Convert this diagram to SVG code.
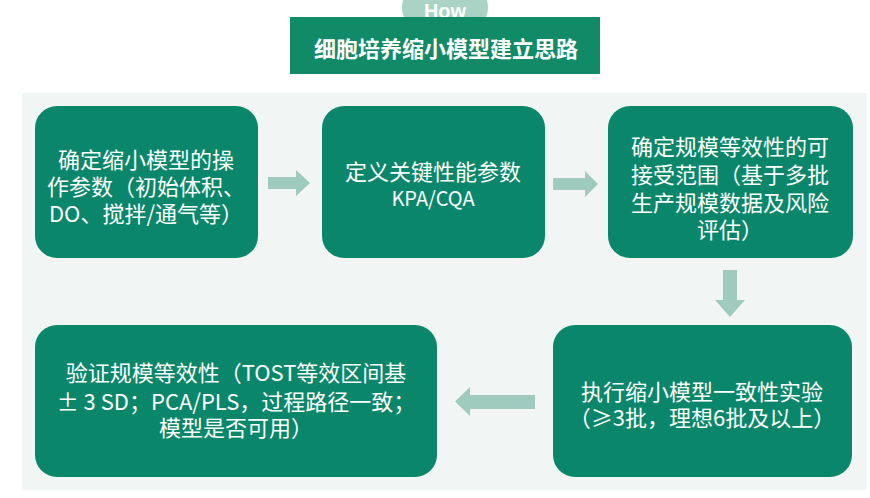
<svg xmlns="http://www.w3.org/2000/svg" width="870" height="498" viewBox="0 0 870 498">
<style>
.box{fill:#0a876a}
.t{fill:#ffffff;font-family:"Noto Sans CJK SC","Noto Sans",sans-serif;font-size:22px;text-anchor:middle}
.arr{fill:#9fcbbf}
</style>
<rect width="870" height="498" fill="#ffffff"/>
<rect x="22" y="93" width="845" height="397" fill="#f1f6f5"/>
<g id="title">
<rect x="402" y="-14" width="86" height="43" rx="21" fill="#a9d3c4"/>
<text x="445" y="18" style="fill:#fff;font-family:'Liberation Sans',Arial,sans-serif;font-weight:bold;font-size:20px;text-anchor:middle">How</text>
<rect x="290" y="17" width="310" height="57" fill="#118a68"/>
<text x="446" y="57" style="fill:#fff;font-family:'Noto Sans CJK SC',sans-serif;font-weight:bold;font-size:22px;text-anchor:middle">细胞培养缩小模型建立思路</text>
</g>
<g id="connectors">
<path class="arr" d="M268 177 H296 V170 L310 183 L296 196 V189 H268 Z"/>
<path class="arr" d="M553 178 H585 V171 L598 184 L585 197 V190 H553 Z"/>
<path class="arr" d="M723 270 H737 V300 H745 L730 317 L715 300 H723 Z"/>
<path class="arr" d="M535 395 H470 V387 L455 401.5 L470 416 V409 H535 Z"/>
</g>
<g id="n1">
<rect class="box" x="35" y="106" width="223" height="152" rx="22"/>
<text class="t" x="146" y="168">确定缩小模型的操</text>
<text class="t" x="146" y="195">作参数（初始体积、</text>
<text class="t" x="146" y="222">DO、搅拌/通气等）</text>
</g>
<g id="n2">
<rect class="box" x="322" y="106" width="223" height="152" rx="22"/>
<text class="t" x="433" y="180">定义关键性能参数</text>
<text class="t" x="433" y="206" style="font-size:20px">KPA/CQA</text>
</g>
<g id="n3">
<rect class="box" x="608" y="106" width="245" height="152" rx="22"/>
<text class="t" x="730" y="155">确定规模等效性的可</text>
<text class="t" x="730" y="183">接受范围（基于多批</text>
<text class="t" x="730" y="211">生产规模数据及风险</text>
<text class="t" x="730" y="238">评估）</text>
</g>
<g id="n4">
<rect class="box" x="553" y="325" width="299" height="152" rx="22"/>
<text class="t" x="702" y="400">执行缩小模型一致性实验</text>
<text class="t" x="702" y="426">（≥3批，理想6批及以上）</text>
</g>
<g id="n5">
<rect class="box" x="35" y="325" width="402" height="152" rx="22"/>
<text class="t" x="236" y="381">验证规模等效性（TOST等效区间基</text>
<text class="t" x="236" y="410">± 3 SD；PCA/PLS，过程路径一致；</text>
<text class="t" x="236" y="436">模型是否可用）</text>
</g>
</svg>
